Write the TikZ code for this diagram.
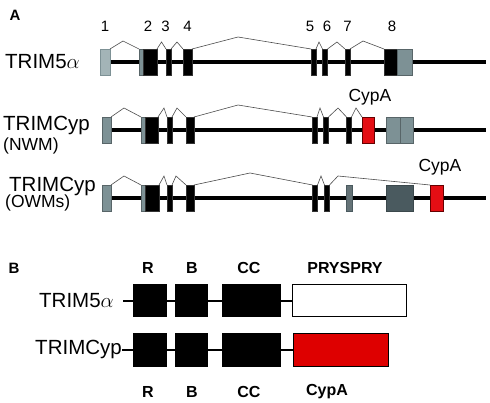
\documentclass[tikz,border=0pt]{standalone}
\usepackage{fontspec}
\setmainfont{Liberation Sans}
\usetikzlibrary{positioning, backgrounds}
\definecolor{exonlight}{RGB}{163,180,183}
\definecolor{exongrey}{RGB}{125,145,149}
\definecolor{exonslate}{RGB}{74,90,95}
\definecolor{cypred}{RGB}{228,14,20}
\definecolor{domred}{RGB}{222,0,0}

\begin{document}
\begin{tikzpicture}[x=1pt, y=-1pt,
  exon/.style={rectangle, draw=black!80, line width=0.5pt, fill=black, inner sep=0pt, outer sep=0pt, minimum height=26pt},
  grexon/.style={exon, draw=exongrey!70!black, fill=exongrey},
  redexon/.style={exon, draw=red!40!black, fill=cypred},
  intron/.style={draw=black!70, line width=0.6pt},
  backbone/.style={line width=3.8pt},
  genename/.style={inner sep=0pt, anchor=west, font=\fontsize{20.5}{24}\selectfont},
  sub/.style={inner sep=0pt, anchor=west, font=\fontsize{17.5}{20}\selectfont},
  num/.style={inner sep=0pt, font=\fontsize{15}{17}\selectfont},
  panel/.style={inner sep=0pt, font=\fontsize{15}{17}\selectfont\bfseries},
  head/.style={inner sep=0pt, font=\fontsize{16}{18}\selectfont\bfseries},
  dombox/.style={rectangle, draw=black, line width=1pt, fill=black, inner sep=0pt, outer sep=0pt, minimum height=32pt},
  link/.style={line width=1.2pt}]
\useasboundingbox (0,0) rectangle (490,403);

% Panel A
\node[panel] (pA) at (15,15) {A};

% TRIM5alpha gene
\node[genename] (g1) at (5,62) {TRIM5$\alpha$};
\node[exon, fill=exonlight, draw=exongrey, minimum width=10pt] (a1) at (105,62) {};
\node[grexon, minimum width=4pt] (a2g) at (141,62) {};
\node[exon, minimum width=14pt] (a2) at (150,62) {};
\node[exon, minimum width=5pt] (a3) at (168.5,62) {};
\node[exon, minimum width=9pt] (a4) at (187.5,62) {};
\node[exon, minimum width=5pt] (a5) at (313.5,62) {};
\node[exon, minimum width=5pt] (a6) at (325,62) {};
\node[exon, minimum width=5pt] (a7) at (347.5,62) {};
\node[exon, minimum width=13pt] (a8) at (390.5,62) {};
\node[grexon, minimum width=15pt] (a8g) at (404.5,62) {};
\coordinate (aend) at (486,62);

\node[num] (n1) at (105,26.5) {1};
\node[num] (n2) at (148,26.5) {2};
\node[num] (n3) at (165.5,26.5) {3};
\node[num] (n4) at (187.5,26.5) {4};
\node[num] (n5) at (310,26.5) {5};
\node[num] (n6) at (327,26.5) {6};
\node[num] (n7) at (347.5,26.5) {7};
\node[num] (n8) at (392,26.5) {8};

\draw[intron] (a1.north east) -- (123,41) -- (a2g.north west);
\draw[intron] (a2.north east) -- (161.5,42) -- (a3.north west);
\draw[intron] (a3.north east) -- (177,42) -- (a4.north west);
\draw[intron] (a4.north east) -- (238,37) -- (a5.north west);
\draw[intron] (a5.north east) -- (319,42) -- (a6.north west);
\draw[intron] (a6.north east) -- (337,42) -- (a7.north west);
\draw[intron] (a7.north east) -- (363,41) -- (a8.north west);

% TRIMCyp gene, NWM
\node[genename] (g2) at (3,125) {TRIMCyp};
\node[sub] (g2s) at (3,146) {(NWM)};
\node[grexon, minimum width=9pt] (b1) at (106.5,130) {};
\node[grexon, minimum width=4pt] (b2g) at (143,130) {};
\node[exon, minimum width=13pt] (b2) at (151.5,130) {};
\node[exon, minimum width=5pt] (b3) at (169.5,130) {};
\node[exon, minimum width=8pt] (b4) at (190,130) {};
\node[exon, minimum width=5pt] (b5) at (314.5,130) {};
\node[exon, minimum width=5pt] (b6) at (326,130) {};
\node[exon, minimum width=5pt] (b7) at (349,130) {};
\node[redexon, minimum width=12pt] (bcyp) at (368,130) {};
\node[grexon, minimum width=14pt] (b8) at (393,130) {};
\node[grexon, minimum width=13pt] (b9) at (406.5,130) {};
\coordinate (bend) at (486,130);
\node[sub, anchor=center] (cyp1) at (370,97) {CypA};

\draw[intron] (b1.north east) -- (124,108) -- (b2g.north west);
\draw[intron] (b2.north east) -- (164,108) -- (b3.north west);
\draw[intron] (b3.north east) -- (177,108) -- (b4.north west);
\draw[intron] (b4.north east) -- (238,105) -- (b5.north west);
\draw[intron] (b5.north east) -- (320,108) -- (b6.north west);
\draw[intron] (b6.north east) -- (338,108) -- (b7.north west);
\draw[intron] (b7.north east) -- (356,108) -- (bcyp.north west);

% TRIMCyp gene, OWMs
\node[genename] (g3) at (9,186) {TRIMCyp};
\node[sub] (g3s) at (5,203) {(OWMs)};
\node[grexon, minimum width=9pt] (c1) at (106.5,198) {};
\node[grexon, minimum width=4pt] (c2g) at (143,198) {};
\node[exon, minimum width=14pt] (c2) at (152,198) {};
\node[exon, minimum width=5pt] (c3) at (169.5,198) {};
\node[exon, minimum width=8pt] (c4) at (190,198) {};
\node[exon, minimum width=5pt] (c5) at (315,198) {};
\node[exon, minimum width=5pt] (c6) at (327,198) {};
\node[exon, fill=exonslate!85!white, draw=exonslate, minimum width=6pt] (c7) at (349,198) {};
\node[exon, fill=exonslate, draw=exonslate!80!black, minimum width=27pt] (c8) at (399.5,198) {};
\node[redexon, minimum width=13pt] (ccyp) at (436.5,198) {};
\coordinate (cend) at (486,198);
\node[sub, anchor=center] (cyp2) at (440,167) {CypA};

\draw[intron] (c1.north east) -- (124,176) -- (c2g.north west);
\draw[intron] (c2.north east) -- (164,176) -- (c3.north west);
\draw[intron] (c3.north east) -- (176,176) -- (c4.north west);
\draw[intron] (c4.north east) -- (250,173) -- (c5.north west);
\draw[intron] (c5.north east) -- (321,176) -- (c6.north west);
\draw[intron] (c6.north east) -- (338,176) -- (ccyp.north west);

\begin{scope}[on background layer]
\draw[backbone] (a1.east) -- (aend);
\draw[backbone] (b1.east) -- (bend);
\draw[backbone] (c1.east) -- (cend);
\end{scope}

% Panel B
\node[panel] (pB) at (14,268) {B};
\node[head] (hr1) at (148,268) {R};
\node[head] (hb1) at (192,268) {B};
\node[head] (hc1) at (249,268) {CC};
\node[head] (hp1) at (345,268) {PRYSPRY};

\node[genename] (t1) at (39,301) {TRIM5$\alpha$};
\coordinate (s1) at (123,301);
\node[dombox, minimum width=33pt] (r1) at (149.5,301) {};
\node[dombox, minimum width=32pt] (bb1) at (191,301) {};
\node[dombox, minimum width=58pt] (cc1) at (251,301) {};
\node[dombox, fill=white, minimum width=114pt] (pp1) at (349,301) {};
\draw[link] (s1) -- (r1.west);
\draw[link] (r1.east) -- (bb1.west);
\draw[link] (bb1.east) -- (cc1.west);
\draw[link] (cc1.east) -- (pp1.west);

\node[genename, anchor=east] (t2) at (122,349) {TRIMCyp};
\node[dombox, minimum width=33pt] (r2) at (149.5,350) {};
\node[dombox, minimum width=32pt] (bb2) at (191,350) {};
\node[dombox, minimum width=58pt] (cc2) at (251,350) {};
\node[dombox, fill=domred, minimum width=95pt] (cy2) at (340.5,350) {};
\draw[link] (t2.east |- r2.west) -- (r2.west);
\draw[link] (r2.east) -- (bb2.west);
\draw[link] (bb2.east) -- (cc2.west);
\draw[link] (cc2.east) -- (cy2.west);

\node[head] (hr2) at (148,392) {R};
\node[head] (hb2) at (192,392) {B};
\node[head] (hc2) at (249,392) {CC};
\node[head] (hp2) at (327,392) {CypA};
\end{tikzpicture}
\end{document}
